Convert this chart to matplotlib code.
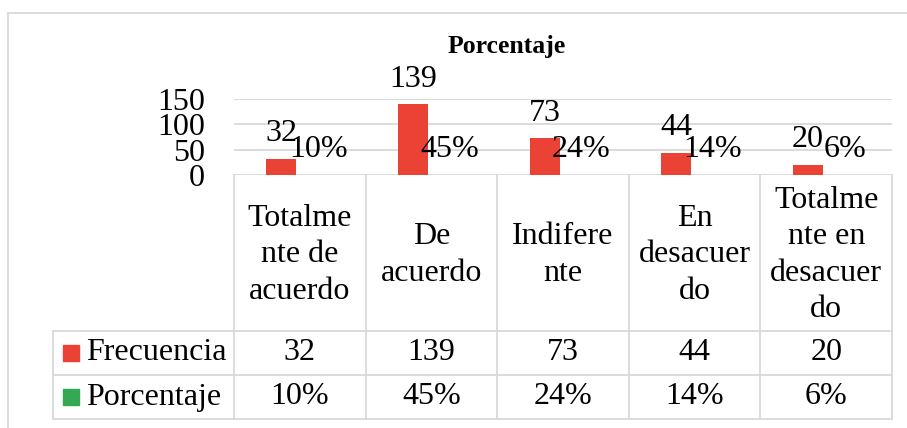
import matplotlib.pyplot as plt
import matplotlib.transforms as mtransforms
from matplotlib.lines import Line2D
from matplotlib.patches import Rectangle

# data
categorias = ["Totalme\nnte de\nacuerdo", "De\nacuerdo", "Indifere\nnte",
              "En\ndesacuer\ndo", "Totalme\nnte en\ndesacuer\ndo"]
frecuencia = [32, 139, 73, 44, 20]
porcentaje = [0.10, 0.45, 0.24, 0.14, 0.06]
series = ["Frecuencia", "Porcentaje"]
colores = ["#EA4335", "#34A853"]
titulo = "Porcentaje"

plt.rcParams['font.family'] = ['Liberation Serif', 'DejaVu Serif']
fs = 23
grid_c = "#d9d9d9"

W, H = 907, 428
fig = plt.figure(figsize=(W / 100, H / 100), dpi=100)


def fy(p):
    # pixel row (from top) -> figure fraction
    return (H - p) / H


ax = fig.add_axes([234 / W, fy(175), (892 - 234) / W, (175 - 98.7) / H])
x = list(range(len(categorias)))
bw = 0.228
off = 0.14
ax.bar([i - off for i in x], frecuencia, bw, color=colores[0])
ax.bar([i + off for i in x], porcentaje, bw, color=colores[1])
ax.set_xlim(-0.5, len(categorias) - 0.5)
ax.set_ylim(0, 150)
ax.set_yticks([0, 50, 100, 150])
ax.set_yticklabels(["0", "50", "100", "150"], fontsize=fs)
ax.tick_params(axis='y', length=0, pad=21)
ax.set_xticks([])
for s in ax.spines.values():
    s.set_visible(False)
ax.grid(axis='y', color=grid_c, linewidth=1.3)
ax.set_axisbelow(True)

# data labels
for i, v in enumerate(frecuencia):
    ax.annotate(str(v), (i - off, v), xytext=(0, 12.5), textcoords='offset points',
                ha='center', va='baseline', fontsize=fs)
for i, v in enumerate(porcentaje):
    ax.annotate(f"{v:.0%}", (i + off, v), xytext=(0, 13), textcoords='offset points',
                ha='center', va='baseline', fontsize=fs)

fig.text(507 / W, fy(46), titulo, ha='center', va='center', fontsize=18.5, fontweight='bold')

# data table below the plot
tr = mtransforms.blended_transform_factory(ax.transData, fig.transFigure)
y_top, y_h, y_r1, y_r2 = fy(175), fy(331), fy(375), fy(419)
lw = 1.3
for b in [i - 0.5 for i in range(len(categorias) + 1)]:
    fig.add_artist(Line2D([b, b], [y_top, y_r2], transform=tr, color=grid_c, lw=lw))
for yy in [y_h, y_r1, y_r2]:
    fig.add_artist(Line2D([53 / W, 892 / W], [yy, yy], transform=fig.transFigure, color=grid_c, lw=lw))
fig.add_artist(Line2D([53 / W, 53 / W], [y_h, y_r2], transform=fig.transFigure, color=grid_c, lw=lw))

for i, c in enumerate(categorias):
    fig.text(i, fy(255), c, transform=tr, ha='center', va='center',
             fontsize=fs, linespacing=1.32, multialignment='center')
for i, v in enumerate(frecuencia):
    fig.text(i, (y_h + y_r1) / 2, str(v), transform=tr, ha='center', va='center', fontsize=fs)
for i, v in enumerate(porcentaje):
    fig.text(i, (y_r1 + y_r2) / 2, f"{v:.0%}", transform=tr, ha='center', va='center', fontsize=fs)

# legend keys in the first column
for k, (nombre, col) in enumerate(zip(series, colores)):
    yc = [(y_h + y_r1) / 2, (y_r1 + y_r2) / 2][k]
    fig.add_artist(Rectangle((63 / W, yc - 8 / H), 16 / W, 16 / H,
                             transform=fig.transFigure, color=col))
    fig.text(86 / W, yc, nombre, ha='left', va='center', fontsize=fs)

# outer chart frame
fig.add_artist(Line2D([8 / W, 1], [fy(13), fy(13)], transform=fig.transFigure, color=grid_c, lw=lw))
fig.add_artist(Line2D([8 / W, 8 / W], [fy(13), 0], transform=fig.transFigure, color=grid_c, lw=lw))

fig.savefig("out.png", dpi=100)
